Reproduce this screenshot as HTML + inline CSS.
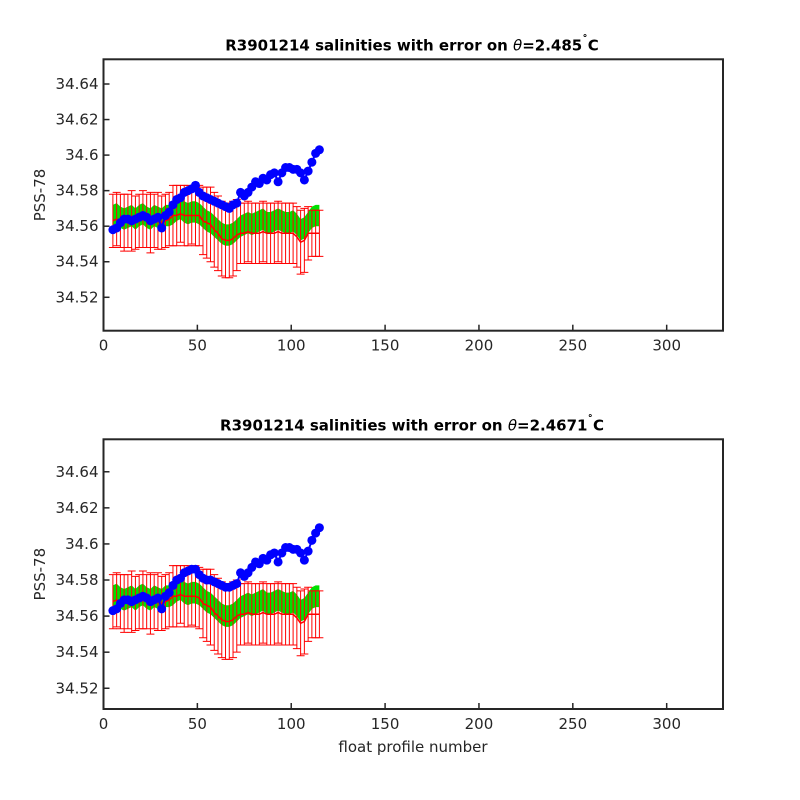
<!DOCTYPE html>
<html><head><meta charset="utf-8"><style>
body{margin:0;background:#fff;}
svg{display:block;font-family:"DejaVu Sans","Liberation Sans",sans-serif;}
.tick{font-size:15px;fill:#262626;}
.title{font-size:15px;font-weight:bold;fill:#000;}
</style></head><body>
<svg id="chart" width="800" height="800" viewBox="0 0 800 800">
<rect width="800" height="800" fill="#fff"/>
</svg>
<script>
const profiles = [5,7,9,11,13,15,17,19,21,23,25,27,29,31,33,35,37,39,41,43,45,47,49,51,53,55,57,59,61,63,65,67,69,71,73,75,77,79,81,83,85,87,89,91,93,95,97,99,101,103,105,107,109,111,113,115];
const blueTop = [34.558,34.559,34.562,34.564,34.564,34.563,34.564,34.565,34.566,34.565,34.563,34.564,34.565,34.559,34.566,34.568,34.572,34.575,34.576,34.579,34.580,34.581,34.583,34.579,34.577,34.576,34.575,34.574,34.573,34.572,34.571,34.570,34.572,34.573,34.579,34.577,34.579,34.582,34.585,34.584,34.587,34.586,34.589,34.590,34.585,34.590,34.593,34.593,34.592,34.592,34.590,34.586,34.591,34.596,34.601,34.603];
const redMeanTop = [34.563,34.564,34.563,34.562,34.563,34.563,34.562,34.563,34.564,34.563,34.562,34.563,34.563,34.562,34.563,34.564,34.566,34.566,34.567,34.566,34.566,34.566,34.566,34.566,34.563,34.562,34.561,34.558,34.556,34.553,34.552,34.552,34.553,34.555,34.556,34.556,34.557,34.556,34.556,34.556,34.557,34.556,34.556,34.556,34.557,34.556,34.556,34.556,34.556,34.554,34.551,34.552,34.556,34.556,34.556,34.556];
const errTop = [0.015,0.015,0.015,0.016,0.015,0.017,0.015,0.015,0.016,0.015,0.017,0.015,0.016,0.015,0.015,0.015,0.017,0.017,0.016,0.017,0.017,0.016,0.017,0.017,0.019,0.020,0.021,0.021,0.021,0.021,0.021,0.021,0.021,0.020,0.017,0.017,0.017,0.017,0.017,0.017,0.017,0.017,0.017,0.017,0.017,0.017,0.017,0.017,0.017,0.017,0.018,0.018,0.015,0.013,0.013,0.013];
const greenMidTop = [34.566,34.567,34.565,34.564,34.565,34.566,34.564,34.566,34.567,34.565,34.564,34.566,34.565,34.564,34.566,34.566,34.567,34.569,34.570,34.568,34.567,34.568,34.568,34.567,34.565,34.563,34.562,34.560,34.558,34.556,34.555,34.555,34.556,34.558,34.560,34.561,34.562,34.561,34.562,34.563,34.564,34.562,34.562,34.563,34.564,34.563,34.562,34.562,34.563,34.561,34.558,34.559,34.562,34.565,34.566,34.566];
const blueBot = [34.563,34.564,34.567,34.569,34.569,34.568,34.569,34.570,34.571,34.570,34.568,34.569,34.570,34.564,34.571,34.573,34.577,34.580,34.581,34.584,34.585,34.586,34.586,34.583,34.581,34.580,34.580,34.579,34.578,34.577,34.576,34.576,34.577,34.578,34.584,34.582,34.584,34.587,34.590,34.589,34.592,34.591,34.594,34.595,34.590,34.595,34.598,34.598,34.597,34.597,34.595,34.591,34.596,34.602,34.606,34.609];
const redMeanBot = [34.568,34.569,34.568,34.567,34.568,34.568,34.567,34.568,34.569,34.568,34.567,34.568,34.568,34.567,34.568,34.569,34.571,34.571,34.572,34.571,34.571,34.571,34.571,34.570,34.567,34.566,34.565,34.562,34.560,34.558,34.557,34.557,34.558,34.560,34.561,34.561,34.562,34.561,34.561,34.561,34.562,34.561,34.561,34.561,34.562,34.561,34.561,34.561,34.561,34.559,34.556,34.557,34.561,34.561,34.561,34.561];
const errBot = errTop;
const greenMidBot = [34.571,34.572,34.570,34.569,34.570,34.571,34.569,34.571,34.572,34.570,34.569,34.571,34.570,34.569,34.571,34.571,34.572,34.574,34.575,34.573,34.572,34.573,34.573,34.572,34.570,34.568,34.567,34.565,34.563,34.561,34.560,34.560,34.561,34.563,34.565,34.566,34.567,34.566,34.567,34.568,34.569,34.567,34.567,34.568,34.569,34.568,34.567,34.567,34.568,34.566,34.563,34.564,34.567,34.570,34.571,34.571];
const greenHalf = 0.006;
const xTicks = [0,50,100,150,200,250,300];
const yTicks = [34.52,34.54,34.56,34.58,34.6,34.62,34.64];
const yTickLabels = ["34.52","34.54","34.56","34.58","34.6","34.62","34.64"];

const NS = "http://www.w3.org/2000/svg";
const svg = document.getElementById("chart");
function mk(tag, attrs, parent){const e=document.createElementNS(NS,tag);for(const k in attrs)e.setAttribute(k,attrs[k]);(parent||svg).appendChild(e);return e;}

function panel(p){
  const L=103.5,R=723,T=p.top,B=p.bottom;
  const xs=v=>L+(v-0)/(330-0)*(R-L);
  const ys=v=>B-(v-p.ymin)/(p.ymax-p.ymin)*(B-T);
  const g=mk("g",{});
  
  
  // green band
  let pts=[];
  p.gmid.forEach((m,i)=>pts.push(xs(profiles[i])+","+ys(m+greenHalf)));
  for(let i=p.gmid.length-1;i>=0;i--)pts.push(xs(profiles[i])+","+ys(p.gmid[i]-greenHalf));
  const band=mk("polygon",{points:pts.join(" "),fill:"#00e000",stroke:"none"},g);
  
  
  // error bars
  p.mean.forEach((m,i)=>{
    const x=xs(profiles[i]),y1=ys(m+p.err[i]),y2=ys(m-p.err[i]);
    const eb=mk("path",{d:`M${x},${y1}V${y2}M${x-4},${y1}H${x+4}M${x-4},${y2}H${x+4}`,stroke:"#ff0000","stroke-width":1,fill:"none"},g);
    
    
  });
  const ml=mk("polyline",{points:p.mean.map((m,i)=>xs(profiles[i])+","+ys(m)).join(" "),stroke:"#ff0000","stroke-width":1.5,fill:"none"},g);
  
  
  // blue
  const bl=mk("polyline",{points:p.blue.map((m,i)=>xs(profiles[i])+","+ys(m)).join(" "),stroke:"#0000ff","stroke-width":2,fill:"none"},g);
  
  
  p.blue.forEach((m,i)=>{
    const c=mk("circle",{cx:xs(profiles[i]),cy:ys(m),r:4.5,fill:"#0000ff"},g);
    
    
  });
  // frame
  const fr=mk("rect",{x:L,y:T,width:R-L,height:B-T,fill:"none",stroke:"#262626","stroke-width":2},g);
  
  
  xTicks.forEach(v=>{
    const x=xs(v);
    mk("line",{x1:x,x2:x,y1:B,y2:B-6,stroke:"#262626","stroke-width":1.5},g);
    const t=mk("text",{x:x,y:B+20,"text-anchor":"middle",class:"tick"},g);
    t.textContent=v;
    
    
  });
  yTicks.forEach((v,i)=>{
    const y=ys(v);
    mk("line",{x1:L,x2:L+6,y1:y,y2:y,stroke:"#262626","stroke-width":1.5},g);
    const t=mk("text",{x:L-5,y:y+5,"text-anchor":"end",class:"tick"},g);
    t.textContent=yTickLabels[i];
    
    
  });
  const yl=mk("text",{x:0,y:0,transform:`translate(45,${(T+B)/2}) rotate(-90)`,"text-anchor":"middle",class:"tick"},g);
  yl.textContent="PSS-78";
  
  
  const ti=mk("text",{x:412,y:T-9,"text-anchor":"middle",class:"title"},g);
  ti.innerHTML='R3901214 salinities with error on <tspan font-style="italic" font-weight="normal">θ</tspan>='+p.theta+'<tspan dy="-7" font-size="11">˚</tspan><tspan dy="7">C</tspan>';
  
  
}
panel({name:"top-panel",top:59.3,bottom:330.7,ymin:34.5012,ymax:34.6539,blue:blueTop,mean:redMeanTop,err:errTop,gmid:greenMidTop,theta:"2.485"});
panel({name:"bottom-panel",top:439.3,bottom:709,ymin:34.5085,ymax:34.658,blue:blueBot,mean:redMeanBot,err:errBot,gmid:greenMidBot,theta:"2.4671"});
const xl=mk("text",{x:413,y:752,"text-anchor":"middle",class:"tick","font-size":"16"});
xl.textContent="float profile number";


</script>
</body></html>
